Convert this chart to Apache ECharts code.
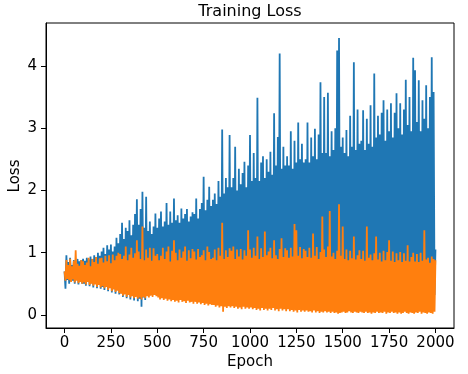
<!DOCTYPE html>
<html>
<head>
<meta charset="utf-8">
<script src="https://cdn.jsdelivr.net/npm/echarts@6/dist/echarts.min.js"></script>
<style>
html,body{margin:0;padding:0;background:#fff;}
#chart{width:468px;height:374px;}
</style>
</head>
<body>
<div id="chart"></div>
<script>
// Tick labels
const xTicks = [0, 250, 500, 750, 1000, 1250, 1500, 1750, 2000];
const yTicks = [0, 1, 2, 3, 4];
const epochStep = 5; // one value every 5 epochs, epochs 0..2000

// Blue series (every 5 epochs)
const blueLoss = [
0.70,0.42,0.96,0.56,0.85,0.50,0.92,0.54,0.80,0.55,0.88,0.50,0.83,0.56,0.90,0.49,0.86,0.54,0.88,0.50,
0.90,0.50,0.87,0.47,0.92,0.54,0.89,0.46,0.94,0.51,0.90,0.44,0.96,0.50,0.93,0.43,1.00,0.49,0.95,0.42,
1.02,0.45,1.08,0.40,0.98,0.46,1.12,0.38,1.05,0.44,1.13,0.36,1.02,0.42,1.10,0.34,1.24,0.40,1.15,0.33,
1.30,0.35,1.48,0.29,1.22,0.34,1.40,0.27,1.35,0.33,1.52,0.25,1.28,0.31,1.45,0.23,1.62,0.30,1.86,0.22,
1.45,0.26,1.70,0.13,1.98,0.28,1.40,0.24,1.90,0.31,1.35,0.40,1.50,0.45,1.30,0.38,1.42,0.42,1.63,0.40,
1.40,0.45,1.55,0.40,1.66,0.48,1.42,0.42,1.50,0.50,1.80,0.44,1.45,0.47,1.66,0.41,1.48,0.46,1.87,0.43,
1.52,0.42,1.60,0.46,1.48,0.40,1.71,0.48,1.55,0.43,1.62,0.45,1.70,0.39,1.50,0.47,1.58,0.44,1.65,0.41,
1.62,0.44,1.87,0.40,1.55,0.47,1.70,0.42,1.80,0.45,2.22,0.39,1.68,0.46,1.85,0.41,2.06,0.43,1.75,0.40,
1.85,0.42,1.95,0.46,1.78,0.40,2.15,0.44,1.90,0.41,2.98,0.45,1.95,0.39,2.20,0.43,2.05,0.40,2.89,0.44,
2.05,0.41,2.20,0.45,2.70,0.38,2.00,0.43,2.35,0.40,2.10,0.44,2.28,0.39,2.46,0.42,2.05,0.40,2.40,0.43,
2.89,0.40,2.15,0.44,2.60,0.38,2.20,0.42,3.49,0.39,2.15,0.43,2.45,0.37,2.55,0.41,2.20,0.39,2.50,0.42,
2.30,0.38,2.62,0.42,2.25,0.36,3.24,0.40,2.40,0.37,2.86,0.41,4.20,0.35,2.35,0.39,2.70,0.37,2.40,0.40,
2.55,0.37,2.40,0.40,2.95,0.35,2.35,0.39,2.80,0.36,2.45,0.41,3.09,0.34,2.50,0.38,2.75,0.36,2.45,0.39,
2.50,0.36,3.09,0.39,2.45,0.34,2.85,0.38,2.55,0.35,2.99,0.40,2.50,0.33,2.90,0.37,3.74,0.35,2.60,0.38,
3.50,0.35,2.60,0.38,3.57,0.33,2.55,0.37,2.95,0.34,2.65,0.39,3.00,0.32,4.25,0.36,4.45,0.34,2.70,0.37,
2.85,0.34,2.60,0.37,2.97,0.32,2.55,0.36,3.20,0.33,2.70,0.38,4.06,0.31,2.65,0.35,3.30,0.33,2.75,0.36,
2.80,0.33,3.29,0.36,2.65,0.31,3.15,0.35,2.75,0.32,3.37,0.37,2.70,0.30,3.88,0.34,2.85,0.32,3.20,0.35,
2.90,0.32,3.25,0.35,3.45,0.30,2.80,0.34,3.30,0.31,2.95,0.36,3.40,0.29,2.85,0.33,3.25,0.31,3.56,0.34,
3.00,0.31,3.40,0.34,2.90,0.29,3.30,0.33,3.78,0.30,3.05,0.35,3.50,0.28,2.95,0.32,4.13,0.30,3.93,0.33,
3.10,0.30,3.77,0.33,2.95,0.28,3.45,0.32,3.15,0.29,3.69,0.34,3.00,0.27,3.50,0.31,4.14,0.29,3.58,0.32,
1.05
];

// Orange series (every 5 epochs)
const orangeLoss = [
0.70,0.55,0.88,0.58,0.80,0.56,0.90,0.53,0.78,0.57,0.87,0.52,1.04,0.55,0.82,0.51,0.79,0.53,0.88,0.50,
0.86,0.52,0.80,0.49,0.84,0.53,0.92,0.48,0.78,0.50,0.90,0.47,0.85,0.49,0.93,0.45,0.82,0.48,0.91,0.44,
0.92,0.46,0.84,0.43,0.95,0.45,0.86,0.40,0.96,0.43,0.83,0.38,0.97,0.41,0.88,0.37,0.95,0.39,1.00,0.35,
0.98,0.34,0.90,0.31,0.95,0.33,1.10,0.29,0.88,0.32,0.97,0.28,1.08,0.30,0.92,0.27,0.99,0.29,1.20,0.26,
1.02,0.28,0.90,0.25,1.42,0.29,0.88,0.27,1.05,0.30,0.92,0.28,1.08,0.31,0.87,0.29,1.07,0.32,0.95,0.30,
0.98,0.28,0.88,0.25,0.95,0.27,1.08,0.24,0.90,0.26,1.02,0.23,1.10,0.25,0.86,0.22,1.03,0.24,1.20,0.21,
1.00,0.23,0.88,0.20,1.05,0.24,0.92,0.21,1.02,0.22,1.10,0.19,0.87,0.23,1.04,0.20,0.91,0.21,1.06,0.18,
1.02,0.21,0.89,0.18,1.06,0.20,0.93,0.17,0.96,0.19,1.04,0.16,0.88,0.18,1.10,0.15,1.01,0.17,0.90,0.16,
0.92,0.16,1.05,0.13,0.88,0.15,1.08,0.12,0.95,0.14,1.48,0.05,0.90,0.13,1.04,0.11,0.93,0.14,1.07,0.12,
1.03,0.14,1.10,0.11,0.90,0.13,1.05,0.10,0.94,0.12,1.06,0.09,0.89,0.13,1.04,0.10,0.95,0.12,1.36,0.10,
1.05,0.12,0.92,0.09,1.08,0.11,0.95,0.08,1.26,0.10,0.90,0.07,1.07,0.11,0.93,0.08,1.34,0.10,0.96,0.07,
1.02,0.10,1.08,0.08,0.91,0.11,1.20,0.07,0.96,0.09,0.90,0.06,1.06,0.10,1.23,0.07,0.93,0.09,1.07,0.06,
1.04,0.09,0.92,0.06,1.08,0.08,0.94,0.05,1.46,0.07,1.36,0.04,0.95,0.08,1.09,0.05,0.91,0.07,1.06,0.05,
1.03,0.07,0.93,0.05,1.08,0.06,0.92,0.04,1.31,0.07,0.95,0.04,1.09,0.06,0.90,0.03,1.01,0.05,1.58,0.04,
1.05,0.06,0.93,0.04,1.10,0.05,1.67,0.03,0.94,0.05,1.00,0.03,0.90,0.04,1.03,0.02,1.78,0.03,0.95,0.04,
1.42,0.05,0.90,0.03,1.05,0.04,0.88,0.06,1.03,0.04,0.91,0.03,1.26,0.05,0.89,0.04,0.96,0.03,1.04,0.05,
0.90,0.04,1.03,0.03,0.87,0.05,1.42,0.03,0.92,0.04,0.97,0.02,0.88,0.04,0.99,0.03,1.26,0.05,0.89,0.03,
1.00,0.04,0.86,0.03,1.03,0.05,0.88,0.02,1.01,0.04,1.20,0.03,0.87,0.05,1.02,0.03,0.85,0.04,0.99,0.02,
0.88,0.04,1.01,0.02,0.85,0.03,0.99,0.05,0.87,0.03,1.12,0.02,0.86,0.04,0.93,0.03,1.00,0.02,0.86,0.04,
0.98,0.03,0.85,0.05,1.00,0.02,0.87,0.04,1.36,0.03,0.89,0.02,0.92,0.04,0.84,0.03,0.94,0.02,0.90,0.05,
0.88
];

const FONT = '"DejaVu Sans", sans-serif';
const toPairs = arr => arr.map((v, i) => [i * epochStep, v]);

const chart = echarts.init(document.getElementById('chart'), null, {renderer: 'canvas'});
chart.setOption({
  animation: false,
  backgroundColor: '#fff',
  grid: {left: 46, right: 14, top: 23, bottom: 46, show: true, borderColor: '#000', borderWidth: 1, backgroundColor: 'transparent'},
  xAxis: {
    type: 'value', min: -100, max: 2100,
    axisLine: {show: true, onZero: false, lineStyle: {color: '#000', width: 1}},
    axisTick: {show: true, length: 5, customValues: xTicks, lineStyle: {color: '#000', width: 1}},
    axisLabel: {customValues: xTicks, color: '#000', fontSize: 15, fontFamily: FONT, margin: 8, formatter: v => String(v)},
    splitLine: {show: false}
  },
  yAxis: {
    type: 'value', min: -0.21, max: 4.69,
    axisLine: {show: true, onZero: false, lineStyle: {color: '#000', width: 1}},
    axisTick: {show: true, length: 5, customValues: yTicks, lineStyle: {color: '#000', width: 1}},
    axisLabel: {customValues: yTicks, color: '#000', fontSize: 15, fontFamily: FONT, margin: 9, formatter: v => String(v)},
    splitLine: {show: false}
  },
  graphic: [
    {type: 'text', x: 250, y: 11.7, style: {text: 'Training Loss', font: '16px ' + FONT, fill: '#000', align: 'center', verticalAlign: 'middle'}},
    {type: 'text', x: 250, y: 362.3, style: {text: 'Epoch', font: '15px ' + FONT, fill: '#000', align: 'center', verticalAlign: 'middle'}},
    {type: 'text', x: 15, y: 176, rotation: Math.PI / 2, style: {text: 'Loss', font: '15px ' + FONT, fill: '#000', align: 'center', verticalAlign: 'middle'}}
  ],
  series: [
    {type: 'line', data: toPairs(blueLoss), showSymbol: false, symbol: 'none', sampling: null,
     lineStyle: {color: '#1f77b4', width: 1.8}, itemStyle: {color: '#1f77b4'}, z: 2},
    {type: 'line', data: toPairs(orangeLoss), showSymbol: false, symbol: 'none', sampling: null,
     lineStyle: {color: '#ff7f0e', width: 1.8}, itemStyle: {color: '#ff7f0e'}, z: 3}
  ]
});
</script>
</body>
</html>
